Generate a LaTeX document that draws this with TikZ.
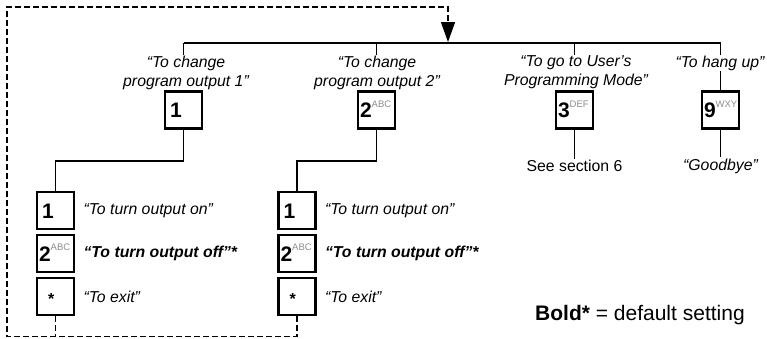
\documentclass[tikz,border=0pt]{standalone}
\usepackage{fontspec}
\setmainfont{Liberation Sans}
\usetikzlibrary{arrows.meta,positioning}

\definecolor{lettergray}{gray}{0.55}
\newcommand{\labelfont}{\fontsize{15.8}{19}\selectfont}
\newcommand{\keycap}[2]{\textbf{#1}\raisebox{10.5pt}[0pt][0pt]{\fontsize{9.5}{9.5}\selectfont\color{lettergray}#2}}

\begin{document}
\begin{tikzpicture}[x=1pt,y=-1pt,
    key/.style={draw, line width=2.6pt, minimum width=37pt, minimum height=37pt,
        inner xsep=2pt, inner ysep=0pt, text width=33pt, align=left,
        text height=15pt, text depth=0pt, font=\fontsize{21}{21}\selectfont},
    wire/.style={line width=1.5pt},
    loopline/.style={line width=1.5pt, dash pattern=on 6pt off 3pt},
    quote/.style={fill=white, inner sep=1pt, align=center, font=\labelfont\itshape},
    note/.style={anchor=west, inner sep=0pt, font=\labelfont\itshape}]

\useasboundingbox (0,0) rectangle (767,338);

% main menu
\coordinate (busL) at (183.5,43);
\coordinate (busR) at (720.5,43);
\draw[wire] (busL) -- (busR);

\node[key] (change1) at (183.5,110) {\hspace*{3pt}\keycap{1}{}};
\node[key] (change2) at (376.5,110) {\keycap{2}{ABC}};
\node[key] (usermode) at (574.5,110) {\keycap{3}{DEF}};
\node[key] (hangup) at (720.5,110) {\keycap{9}{WXY}};

\foreach \k in {change1,change2,usermode,hangup}
    \draw[wire] (\k.north) -- (\k.north |- busL);

\node[quote] (change1txt) at (186,72.5) {“To change\\program output 1”};
\node[quote] (change2txt) at (377,72.5) {“To change\\program output 2”};
\node[quote] (usermodetxt) at (576,72.5) {“To go to User’s\\Programming Mode”};
\node[quote] (hanguptxt) at (720,63) {“To hang up”};

\node[inner sep=1pt, font=\labelfont] (section) at (574.5,166) {See section 6};
\node[quote] (goodbye) at (720.5,166) {“Goodbye”};
\draw[wire] (usermode.south) -- (section.north);
\draw[wire] (hangup.south) -- (goodbye.north);

% output sub menus
\node[key] (on1) at (55.5,210.5) {\hspace*{3pt}\keycap{1}{}};
\node[key] (off1) at (55.5,253.5) {\keycap{2}{ABC}};
\node[key] (exit1) at (55.5,296.5) {\hspace*{9pt}\textbf{\fontsize{16}{16}\selectfont *}};
\node[key] (on2) at (297,210.5) {\hspace*{3pt}\keycap{1}{}};
\node[key] (off2) at (297,253.5) {\keycap{2}{ABC}};
\node[key] (exit2) at (297,296.5) {\hspace*{9pt}\textbf{\fontsize{16}{16}\selectfont *}};

\draw[wire] (change1.south) -- ++(0,31) -| (on1.north);
\draw[wire] (change2.south) -- ++(0,31) -| (on2.north);

\node[note, right=8pt of on1] (on1txt) {“To turn output on”};
\node[note, right=8pt of off1] (off1txt) {\bfseries“To turn output off”*};
\node[note, right=8pt of exit1] (exit1txt) {“To exit”};
\node[note, right=8pt of on2] (on2txt) {“To turn output on”};
\node[note, right=8pt of off2] (off2txt) {\bfseries“To turn output off”*};
\node[note, right=8pt of exit2] (exit2txt) {“To exit”};

% way back to the main menu
\coordinate (loopSW) at (7,336.5);
\coordinate (loopNW) at (7,7);
\coordinate (entry) at (448,42);
\draw[loopline] (exit1.south) -- (exit1.south |- loopSW);
\draw[loopline,-{Triangle[width=14pt,length=20pt]}] (exit2.south) -- (exit2.south |- loopSW)
    -- (loopSW) -- (loopNW) -| (entry);

\node[anchor=west, inner sep=0pt, font=\fontsize{21}{21}\selectfont] (legend) at (535,315)
    {\textbf{Bold*} = default setting};

\end{tikzpicture}
\end{document}
